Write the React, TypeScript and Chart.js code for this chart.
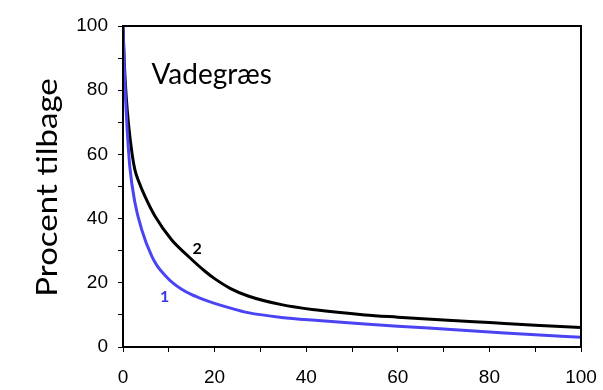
import React, { useEffect, useRef } from "react";
import { Chart, registerables } from "chart.js";

Chart.register(...registerables);

// Series 1 (blue)
const blueX = [0, 0.25, 0.5, 0.9, 1.5, 2.6, 4.1, 6.3, 7.5, 9.2, 11, 12.8, 15, 17.2, 20, 23.5, 27.3, 34.6, 41.9, 52.8, 60, 70, 80, 90, 100];
const blueY = [100, 88, 79, 68, 56, 45, 36.5, 28.2, 25.2, 22.3, 19.8, 18.0, 16.3, 15.0, 13.6, 12.1, 10.7, 9.2, 8.3, 7.2, 6.5, 5.6, 4.7, 3.8, 3.0];

// Series 2 (black)
const blackX = [0, 0.3, 0.7, 1.2, 2, 2.6, 3.5, 4.8, 7, 10.6, 14.3, 17.9, 20, 23.5, 27.3, 34.6, 41.9, 52.8, 60, 70, 80, 90, 100];
const blackY = [100, 88, 78, 69.5, 60, 55.2, 51.3, 46.9, 40.7, 33.4, 28.2, 23.6, 21.3, 18.2, 15.9, 13.2, 11.6, 10.0, 9.3, 8.4, 7.6, 6.8, 6.1];

const seriesNames = ["1", "2"];
const yTitle = "Procent tilbage";
const chartLabel = "Vadegræs";
const axisMin = 0;
const axisMax = 100;
const tickStep = 10;
const labeledStep = 20;

const toPoints = (xs: number[], ys: number[]) => xs.map((x, i) => ({ x, y: ys[i] }));

const BLUE = "#4b44f2";
const LABEL_FONT = "Lato, 'Open Sans', sans-serif";

const annotationPlugin = {
  id: "annotations",
  afterDatasetsDraw(chart: any) {
    const { ctx, scales, chartArea } = chart;
    const x = scales.x;
    const y = scales.y;
    ctx.save();
    ctx.textBaseline = "middle";
    ctx.textAlign = "left";
    ctx.fillStyle = "#000";
    ctx.font = `28px ${LABEL_FONT}`;
    ctx.fillText(chartLabel, x.getPixelForValue(6.2), y.getPixelForValue(84.8));
    ctx.textAlign = "center";
    ctx.font = `bold 16px ${LABEL_FONT}`;
    ctx.fillStyle = "#000";
    ctx.fillText(seriesNames[1], x.getPixelForValue(16.2), y.getPixelForValue(30.6));
    ctx.fillStyle = "#3a35e8";
    ctx.fillText(seriesNames[0], x.getPixelForValue(9.1), y.getPixelForValue(15.7));
    ctx.restore();

    // y-axis title
    ctx.save();
    ctx.translate(48, (chartArea.top + chartArea.bottom) / 2 + 1);
    ctx.rotate(-Math.PI / 2);
    ctx.scale(1.18, 1);
    ctx.font = `28px ${LABEL_FONT}`;
    ctx.fillStyle = "#000";
    ctx.textAlign = "center";
    ctx.textBaseline = "middle";
    ctx.fillText(yTitle, 0, 0);
    ctx.restore();
  },
  afterDraw(chart: any) {
    const { ctx, chartArea } = chart;
    ctx.save();
    ctx.strokeStyle = "#000";
    ctx.lineWidth = 2;
    ctx.strokeRect(chartArea.left, chartArea.top, chartArea.right - chartArea.left, chartArea.bottom - chartArea.top);
    ctx.restore();
  },
};

export default function App() {
  const ref = useRef<HTMLCanvasElement | null>(null);

  useEffect(() => {
    if (!ref.current) return;
    const tickCallback = (v: any) => (Number(v) % labeledStep === 0 ? String(v) : "");
    const chart = new Chart(ref.current, {
      type: "line",
      data: {
        datasets: [
          {
            label: seriesNames[0],
            data: toPoints(blueX, blueY),
            borderColor: BLUE,
            borderWidth: 3,
            pointRadius: 0,
            cubicInterpolationMode: "monotone",
            fill: false,
          },
          {
            label: seriesNames[1],
            data: toPoints(blackX, blackY),
            borderColor: "#000",
            borderWidth: 3,
            pointRadius: 0,
            cubicInterpolationMode: "monotone",
            fill: false,
          },
        ],
      },
      options: {
        animation: false,
        responsive: false,
        maintainAspectRatio: false,
        layout: { padding: { left: 0, right: 22, top: 26, bottom: 0 } },
        plugins: {
          legend: { display: false },
          tooltip: { enabled: false },
          title: { display: false },
        },
        scales: {
          x: {
            type: "linear",
            min: axisMin,
            max: axisMax,
            ticks: {
              stepSize: tickStep,
              callback: tickCallback,
              color: "#000",
              font: { family: "'Liberation Sans', Arial, sans-serif", size: 19 },
              padding: 14,
              maxRotation: 0,
              autoSkip: false,
            },
            grid: { drawOnChartArea: false, drawTicks: true, tickLength: 5, color: "#000", lineWidth: 1 },
            border: { display: true, color: "#000", width: 2 },
            afterFit: (scale: any) => {
              scale.height = 43;
              scale.paddingLeft = 0;
              scale.paddingRight = 0;
            },
          },
          y: {
            type: "linear",
            min: axisMin,
            max: axisMax,
            ticks: {
              stepSize: tickStep,
              callback: tickCallback,
              color: "#000",
              font: { family: "'Liberation Sans', Arial, sans-serif", size: 19 },
              padding: 10,
              autoSkip: false,
            },
            grid: { drawOnChartArea: false, drawTicks: true, tickLength: 5, color: "#000", lineWidth: 1 },
            border: { display: true, color: "#000", width: 2 },
            afterFit: (scale: any) => {
              scale.width = 123;
              scale.paddingTop = 0;
              scale.paddingBottom = 0;
            },
          },
        },
      },
      plugins: [annotationPlugin],
    });
    return () => chart.destroy();
  }, []);

  return (
    <div style={{ position: "absolute", left: 0, top: 0, width: 603, height: 390, background: "#fff" }}>
      <canvas ref={ref} width={603} height={390} style={{ width: 603, height: 390 }} />
    </div>
  );
}
